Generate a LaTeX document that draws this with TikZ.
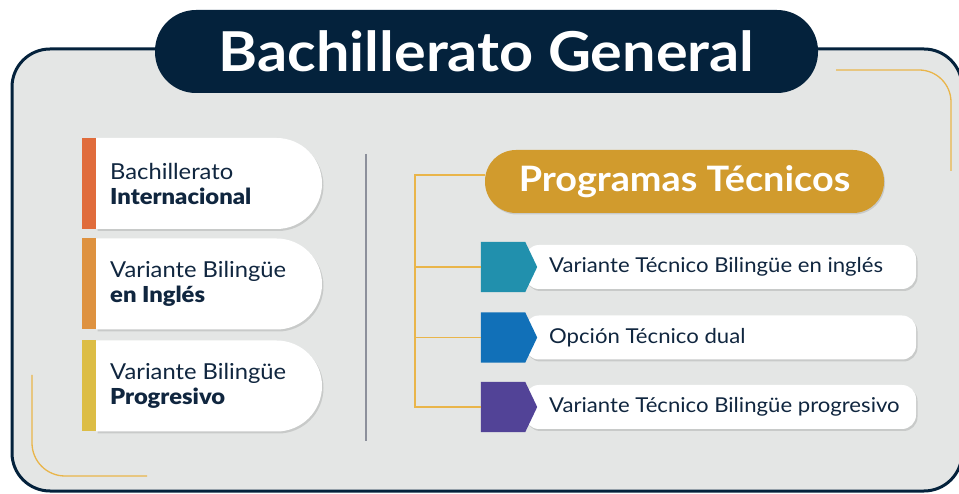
\documentclass[tikz,border=0pt]{standalone}
\usepackage{fontspec}
\setmainfont{Lato}[FakeStretch=1.08]
\newfontfamily\heavyfont{Lato Black}[FakeStretch=1.08]
\usetikzlibrary{shapes.misc,shadows}
\definecolor{navy}{HTML}{04223C}
\definecolor{bggray}{HTML}{E4E6E5}
\definecolor{goldline}{HTML}{E9B54A}
\definecolor{goldpill}{HTML}{D19B2D}
\definecolor{txt}{HTML}{10263F}
\definecolor{divgray}{HTML}{8C909B}
\definecolor{barA}{HTML}{E06C3C}
\definecolor{barB}{HTML}{DE9240}
\definecolor{barC}{HTML}{DCBD45}
\definecolor{tealc}{HTML}{2190AD}
\definecolor{bluec}{HTML}{1170B8}
\definecolor{purplec}{HTML}{524397}
\begin{document}
\begin{tikzpicture}[x=1pt,y=1pt,
  cardshadow/.style={drop shadow={shadow xshift=1.5pt,shadow yshift=-2pt,opacity=0.12,fill=black}},
  leftcard/.style={rounded rectangle, rounded rectangle left arc=none, fill=white,
    minimum width=226pt, minimum height=91pt, inner sep=0pt, cardshadow},
  colorbar/.style={rectangle, minimum width=14pt, minimum height=91pt, inner sep=0pt, anchor=east},
  lefttext/.style={anchor=west, align=left, text=txt, inner sep=0pt,
    font=\fontsize{22}{25}\selectfont},
  techcard/.style={rectangle, rounded corners=14pt, fill=white, minimum width=391pt,
    minimum height=44pt, inner sep=0pt, cardshadow},
  pentbox/.style={rectangle, minimum width=56pt, minimum height=50pt, inner sep=0pt},
  techtext/.style={anchor=west, text=txt, inner sep=0pt, font=\fontsize{20.5}{24}\selectfont},
  goldthin/.style={draw=goldline, line width=1.3pt},
]
\useasboundingbox (0,0) rectangle (959,493);
% main frame
\draw[navy, line width=3pt, fill=bggray, rounded corners=38pt] (12,2) rectangle (962,444);
% decorative gold lines
\draw[goldthin, rounded corners=32pt] (836,423) -- (951,423) -- (951,322);
\draw[goldthin, rounded corners=33pt] (32,118) -- (32,17) -- (147,17);
% title
\node[rectangle, rounded corners=41pt, fill=navy, minimum width=663pt, minimum height=83pt,
  text=white, font=\fontsize{55}{60}\selectfont\bfseries] (title) at (486.5,441.5) {Bachillerato General};
% left cards
\node[leftcard] (c1) at (209,309.5) {};
\node[colorbar, fill=barA] (b1) at (c1.west) {};
\node[lefttext] (l1) at (110,309.5) {Bachillerato\\{\heavyfont Internacional}};
\node[leftcard] (c2) at (209,209) {};
\node[colorbar, fill=barB] (b2) at (c2.west) {};
\node[lefttext] (l2) at (110,209) {Variante Bilingüe\\{\heavyfont en Inglés}};
\node[leftcard] (c3) at (209,107) {};
\node[colorbar, fill=barC] (b3) at (c3.west) {};
\node[lefttext] (l3) at (110,107) {Variante Bilingüe\\{\heavyfont Progresivo}};
% divider
\coordinate (d1) at (366,339);
\coordinate (d2) at (366,52);
\draw[divgray, line width=1.2pt] (d1) -- (d2);
% programas pill
\node[rectangle, rounded corners=31pt, fill=goldpill, minimum width=399pt, minimum height=63pt,
  text=white, font=\fontsize{35}{40}\selectfont\bfseries,
  drop shadow={shadow xshift=1pt,shadow yshift=-1.5pt,opacity=0.12,fill=black}] (prog) at (684.5,311.5) {Programas Técnicos};
% tech cards
\node[techcard] (w1) at (720.5,226) {};
\node[techcard] (w2) at (720.5,155.5) {};
\node[techcard] (w3) at (720.5,86) {};
\node[pentbox] (t1) at (509,226) {};
\node[pentbox] (t2) at (509,155.5) {};
\node[pentbox] (t3) at (509,86) {};
\foreach \t/\c in {t1/tealc, t2/bluec, t3/purplec}{
  \fill[\c] (\t.north west) -- ([xshift=-12pt]\t.north east) -- (\t.east)
    -- ([xshift=-12pt]\t.south east) -- (\t.south west) -- cycle;
}
\node[techtext] (x1) at (549,226) {Variante Técnico Bilingüe en inglés};
\node[techtext] (x2) at (549,155.5) {Opción Técnico dual};
\node[techtext] (x3) at (549,86) {Variante Técnico Bilingüe progresivo};
% bracket
\coordinate (br) at (415,318);
\draw[goldthin] (prog.west |- br) -- (br) -- (br |- t3.west) -- (t3.west);
\draw[goldthin] (br |- t1.west) -- (t1.west);
\draw[goldthin] (br |- t2.west) -- (t2.west);
\end{tikzpicture}
\end{document}
